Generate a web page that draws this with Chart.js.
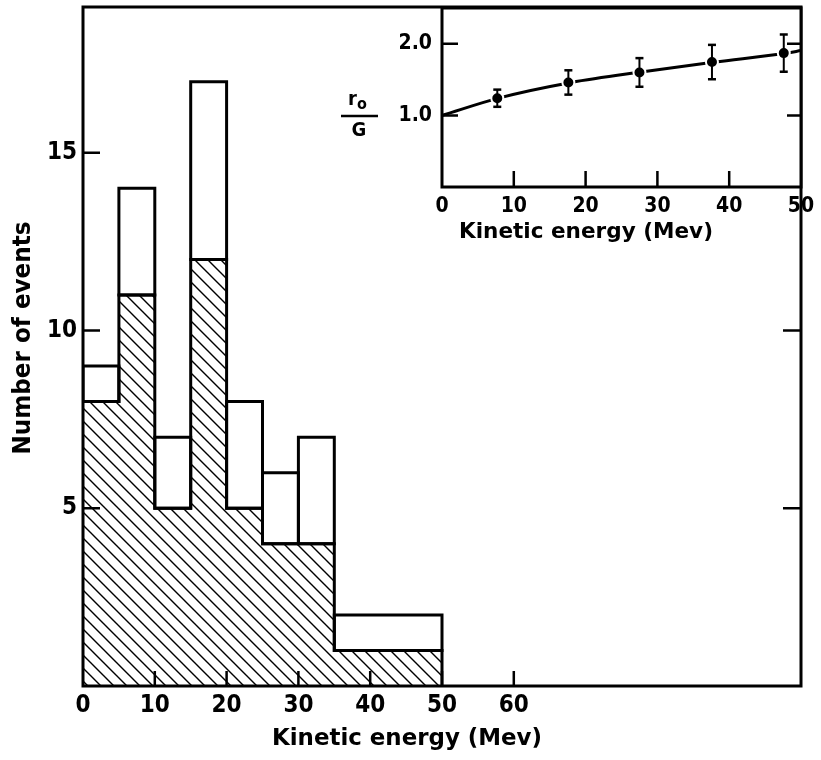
<!DOCTYPE html>
<html><head><meta charset="utf-8">
<script src="https://cdn.jsdelivr.net/npm/chart.js@4.4.1/dist/chart.umd.min.js"></script>
<style>
html,body{margin:0;padding:0;background:#fff;}
#wrap{position:relative;width:821px;height:760px;background:#fff;}
#main{position:absolute;left:0;top:0;}
#inset{position:absolute;left:330px;top:0;}
</style></head><body>
<div id="wrap"><canvas id="main" width="821" height="760"></canvas><canvas id="inset" width="491" height="260"></canvas></div>
<script>
// ---- data ----
const binEdges = [0, 5, 10, 15, 20, 25, 30, 35, 50];
const totalCounts = [9, 14, 7, 17, 8, 6, 7, 2];
const hatchedCounts = [8, 11, 5, 12, 5, 4, 4, 1];
const mainXTicks = [0, 10, 20, 30, 40, 50, 60];
const mainYTicks = [5, 10, 15];
const insetEnergy = [7.7, 17.6, 27.5, 37.6, 47.6];
const insetRatio = [1.24, 1.46, 1.60, 1.745, 1.87];
const insetErr = [0.12, 0.17, 0.20, 0.24, 0.26];
const curveEnergy = [0, 8, 18, 28, 38, 48, 50];
const curveRatio = [1.0, 1.245, 1.46, 1.61, 1.745, 1.87, 1.905];
const insetXTicks = [0, 10, 20, 30, 40, 50];
const insetYTicks = [1, 2];

const FONT = "'DejaVu Sans Condensed', 'DejaVu Sans', sans-serif";
Chart.defaults.font.family = FONT;
Chart.defaults.color = '#000';

function fitText(ctx, text, cx, cy, size, targetW, rot) {
  ctx.save();
  ctx.font = "bold " + size + "px " + FONT;
  ctx.textAlign = 'center'; ctx.textBaseline = 'middle';
  const w = ctx.measureText(text).width;
  ctx.translate(cx, cy);
  if (rot) ctx.rotate(rot);
  ctx.scale(targetW / w, 1);
  ctx.fillText(text, 0, 0);
  ctx.restore();
}

function hatchPattern() {
  const s = 13, c = document.createElement('canvas');
  c.width = s; c.height = s;
  const g = c.getContext('2d');
  g.strokeStyle = '#000'; g.lineWidth = 1.4;
  g.beginPath();
  g.moveTo(0, 0); g.lineTo(s, s);
  g.moveTo(-2, s - 2); g.lineTo(2, s + 2);
  g.moveTo(s - 2, -2); g.lineTo(s + 2, 2);
  g.stroke();
  return document.getElementById('main').getContext('2d').createPattern(c, 'repeat');
}

// ---- main histogram datasets ----
const hatchData = binEdges.slice(0, -1).map((e, i) => ({x: e, y: hatchedCounts[i]}));
hatchData.push({x: binEdges[binEdges.length - 1], y: hatchedCounts[hatchedCounts.length - 1]});
hatchData.push({x: binEdges[binEdges.length - 1], y: 0});

const mainDatasets = [{
  data: hatchData, showLine: true, stepped: 'before', fill: 'origin',
  backgroundColor: hatchPattern(), borderColor: '#000', borderWidth: 3,
  borderJoinStyle: 'miter', borderCapStyle: 'square', pointRadius: 0, order: 10
}];
function box(x0, x1, lo, hi) {
  return {
    data: [{x: x0, y: lo}, {x: x0, y: hi}, {x: x1, y: hi}, {x: x1, y: lo}, {x: x0, y: lo}],
    showLine: true, fill: false, borderColor: '#000', borderWidth: 3,
    borderJoinStyle: 'miter', borderCapStyle: 'square', pointRadius: 0, tension: 0, order: 1
  };
}
for (let i = 0; i < totalCounts.length; i++) {
  mainDatasets.push(box(binEdges[i], binEdges[i + 1], hatchedCounts[i], totalCounts[i]));
}

const noPadY = s => { s.paddingTop = 0; s.paddingBottom = 0; };
const noPadX = s => { s.paddingLeft = 0; s.paddingRight = 0; };

const mainDeco = {
  id: 'mainDeco',
  afterDraw(chart) {
    const {ctx, chartArea: a, scales: {x, y}} = chart;
    ctx.save();
    ctx.strokeStyle = '#000';
    ctx.lineWidth = 3; ctx.lineJoin = 'miter';
    ctx.strokeRect(a.left, a.top, a.right - a.left, a.bottom - a.top);
    ctx.beginPath();
    mainYTicks.forEach(v => {
      const py = y.getPixelForValue(v);
      ctx.moveTo(a.left, py); ctx.lineTo(a.left + 17, py);
      ctx.moveTo(a.right, py); ctx.lineTo(a.right - 18, py);
    });
    mainXTicks.filter(v => v > 0).forEach(v => {
      const px = x.getPixelForValue(v);
      ctx.moveTo(px, a.bottom); ctx.lineTo(px, a.bottom - 15);
    });
    ctx.lineWidth = 2.5; ctx.stroke();
    ctx.fillStyle = '#000';
    fitText(ctx, 'Kinetic energy (Mev)', 407, 739, 23, 270, 0);
    fitText(ctx, 'Number of events', 24, 338, 24, 233, -Math.PI / 2);
    ctx.restore();
  }
};

new Chart(document.getElementById('main'), {
  type: 'scatter',
  data: {datasets: mainDatasets},
  options: {
    responsive: false, animation: false, devicePixelRatio: 1,
    layout: {padding: {top: 7, right: 20, left: 0, bottom: 0}},
    plugins: {legend: {display: false}, tooltip: {enabled: false}},
    scales: {
      x: {
        type: 'linear', min: 0, max: 100,
        grid: {display: false, drawTicks: false}, border: {display: false},
        afterFit: s => { s.height = 74; noPadX(s); },
        afterBuildTicks: s => { s.ticks = mainXTicks.map(v => ({value: v})); },
        ticks: {padding: 5, font: {size: 24, weight: 'bold'}, color: '#000', maxRotation: 0,
                callback: v => String(v)}
      },
      y: {
        min: 0, max: 19.1,
        grid: {display: false, drawTicks: false}, border: {display: false},
        afterFit: s => { s.width = 83; noPadY(s); },
        afterBuildTicks: s => { s.ticks = mainYTicks.map(v => ({value: v})); },
        ticks: {padding: 6, font: {size: 24, weight: 'bold'}, color: '#000',
                callback: v => String(v)}
      }
    }
  },
  plugins: [mainDeco]
});

// ---- inset ----
const errDatasets = insetEnergy.map((e, i) => ({
  data: [{x: e, y: insetRatio[i] - insetErr[i]}, {x: e, y: insetRatio[i] + insetErr[i]}],
  showLine: true, borderColor: '#000', borderWidth: 2,
  pointStyle: 'line', pointRadius: 4, pointBorderWidth: 2.5, pointBorderColor: '#000', order: 1
}));

const insetDeco = {
  id: 'insetDeco',
  beforeDatasetsDraw(chart) {
    const {ctx, chartArea: a} = chart;
    ctx.save(); ctx.fillStyle = '#fff';
    ctx.fillRect(a.left, a.top, a.right - a.left, a.bottom - a.top);
    ctx.restore();
  },
  afterDraw(chart) {
    const {ctx, chartArea: a, scales: {x, y}} = chart;
    ctx.save();
    ctx.strokeStyle = '#000';
    ctx.lineWidth = 3;
    ctx.strokeRect(a.left, a.top, a.right - a.left, a.bottom - a.top);
    ctx.beginPath();
    insetYTicks.forEach(v => {
      const py = y.getPixelForValue(v);
      ctx.moveTo(a.left, py); ctx.lineTo(a.left + 16, py);
      ctx.moveTo(a.right, py); ctx.lineTo(a.right - 14, py);
    });
    insetXTicks.filter(v => v > 0 && v < 50).forEach(v => {
      const px = x.getPixelForValue(v);
      ctx.moveTo(px, a.bottom); ctx.lineTo(px, a.bottom - 16);
    });
    ctx.lineWidth = 2.5; ctx.stroke();
    ctx.fillStyle = '#000';
    fitText(ctx, 'Kinetic energy (Mev)', 256, 232, 22, 254, 0);
    // r0 / G
    const cx = 29;
    ctx.beginPath(); ctx.moveTo(11, 116); ctx.lineTo(48, 116); ctx.lineWidth = 2.5; ctx.stroke();
    ctx.font = "bold 20px " + FONT;
    ctx.textAlign = 'center'; ctx.textBaseline = 'middle';
    ctx.fillText('G', cx, 131);
    ctx.textAlign = 'left';
    ctx.fillText('r', cx - 11, 100);
    ctx.font = "bold 16px " + FONT;
    ctx.fillText('o', cx - 2, 105);
    ctx.restore();
  }
};

new Chart(document.getElementById('inset'), {
  type: 'scatter',
  data: {datasets: [
    {data: curveEnergy.map((e, i) => ({x: e, y: curveRatio[i]})), showLine: true,
     borderColor: '#000', borderWidth: 3, pointRadius: 0, cubicInterpolationMode: 'monotone', order: 3},
    {data: insetEnergy.map((e, i) => ({x: e, y: insetRatio[i]})), showLine: false,
     pointRadius: 6, pointBackgroundColor: '#000', pointBorderColor: '#fff', pointBorderWidth: 2, order: 2},
    ...errDatasets
  ]},
  options: {
    responsive: false, animation: false, devicePixelRatio: 1,
    layout: {padding: {top: 7, right: 20, left: 0, bottom: 0}},
    plugins: {legend: {display: false}, tooltip: {enabled: false}},
    scales: {
      x: {
        type: 'linear', min: 0, max: 50,
        grid: {display: false, drawTicks: false}, border: {display: false},
        afterFit: s => { s.height = 73; noPadX(s); },
        afterBuildTicks: s => { s.ticks = insetXTicks.map(v => ({value: v})); },
        ticks: {padding: 7, font: {size: 21, weight: 'bold'}, color: '#000', maxRotation: 0,
                callback: v => String(v)}
      },
      y: {
        min: 0, max: 2.5,
        grid: {display: false, drawTicks: false}, border: {display: false},
        afterFit: s => { s.width = 112; noPadY(s); },
        afterBuildTicks: s => { s.ticks = insetYTicks.map(v => ({value: v})); },
        ticks: {padding: 10, font: {size: 21, weight: 'bold'}, color: '#000',
                callback: v => Number(v).toFixed(1)}
      }
    }
  },
  plugins: [insetDeco]
});
</script>
</body></html>
